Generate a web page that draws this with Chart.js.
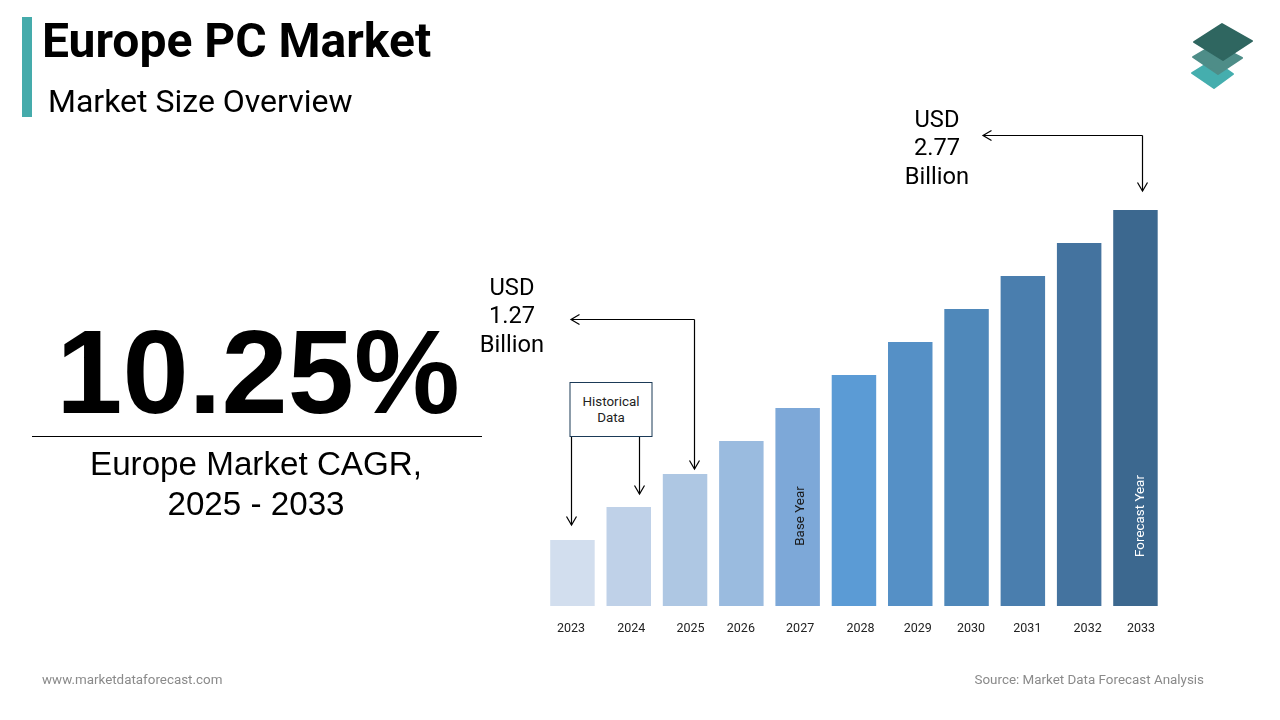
<!DOCTYPE html>
<html>
<head>
<meta charset="utf-8">
<title>Europe PC Market</title>
<script src="https://cdn.jsdelivr.net/npm/chart.js@4"></script>
<style>
  html, body { margin: 0; padding: 0; background: #fff; }
  body { width: 1280px; height: 720px; position: relative; overflow: hidden; font-family: Roboto, sans-serif; color: #000; }
  #barChart { position: absolute; left: 0; top: 0; }
  .t { position: absolute; white-space: nowrap; }
  .c { text-align: center; transform: translateX(-50%); }
  .rule { position: absolute; background: #000; }
</style>
</head>
<body>
<canvas id="barChart" width="1280" height="720"></canvas>

<div style="position:absolute;left:22px;top:17px;width:10px;height:100px;background:#45ABAB"></div>
<div class="t" style="left:42px;top:14px;font-size:48px;font-weight:700;line-height:54px">Europe PC Market</div>
<div class="t" style="left:48px;top:82px;font-size:32px;line-height:38px">Market Size Overview</div>

<div class="t c" style="left:258px;top:299px;font-family:'Liberation Sans',sans-serif;font-size:119px;font-weight:700;line-height:146px">10.25%</div>
<div class="rule" style="left:32px;top:436px;width:450px;height:1px"></div>
<div class="t c" style="left:256px;top:444px;font-family:'Liberation Sans',sans-serif;font-size:33.2px;line-height:40px">Europe Market CAGR,<br>2025 - 2033</div>

<div class="t c" style="left:512px;top:273px;font-size:23.7px;line-height:28.3px">USD<br>1.27<br>Billion</div>
<div class="t c" style="left:937px;top:105px;font-size:23.7px;line-height:28.3px">USD<br>2.77<br>Billion</div>

<div class="t c" style="left:611px;top:382px;width:83px;height:55px;box-sizing:border-box;border:1px solid #1B3A57;background:#fff;font-size:13.4px;line-height:16px;padding-top:11px;color:#222">Historical<br>Data</div>

<svg style="position:absolute;left:0;top:0" width="1280" height="720">
  <polygon points="1192,73 1213,60 1233,74 1214,88" fill="#45AEAE" stroke="#45AEAE" stroke-linejoin="round" stroke-width="2"/>
  <polygon points="1193,57 1215,44 1242,58 1218,74" fill="#4E8D88" stroke="#4E8D88" stroke-linejoin="round" stroke-width="2"/>
  <polygon points="1194,42 1222,24 1252,41 1223,60" fill="#2F6660" stroke="#2F6660" stroke-linejoin="round" stroke-width="2"/>
</svg>

<div class="t" style="left:42px;top:672px;font-size:13.4px;line-height:16px;color:#8A8A8A">www.marketdataforecast.com</div>
<div class="t" style="right:76px;top:672px;font-size:13.4px;line-height:16px;color:#8A8A8A">Source: Market Data Forecast Analysis</div>

<script>
var years = ["2023", "2024", "2025", "2026", "2027", "2028", "2029", "2030", "2031", "2032", "2033"];
var barHeights = [2, 3, 4, 5, 6, 7, 8, 9, 10, 11, 12];
var barColors = ["#D2DEEE", "#BFD1E8", "#AEC7E3", "#9ABBDF", "#7DA8D8", "#5B9BD5",
                 "#5590C6", "#4F88BA", "#4A7EAE", "#44739F", "#3C688F"];

// Year labels sit a little off-centre in the source
var yearShift = [-1.5, 2.5, 5.5, -0.5, 2.5, 6.5, 7.5, 4.5, 4.5, 8.5, 5.5];

function arrowHead(ctx, x, y, dir) {
  var s = 8.5;
  ctx.beginPath();
  if (dir === "down") {
    ctx.moveTo(x - 5, y - s);
    ctx.lineTo(x, y);
    ctx.lineTo(x + 5, y - s);
  } else {
    ctx.moveTo(x + s, y - 5);
    ctx.lineTo(x, y);
    ctx.lineTo(x + s, y + 5);
  }
  ctx.stroke();
}

var annotations = {
  id: "annotations",
  afterDraw: function (chart) {
    var ctx = chart.ctx;
    var xs = chart.scales.x;
    var ys = chart.scales.y;
    var baseY = ys.getPixelForValue(0);
    var i;

    ctx.save();

    // year labels
    ctx.font = "12.5px Roboto";
    ctx.fillStyle = "#222";
    ctx.textAlign = "center";
    ctx.textBaseline = "middle";
    for (i = 0; i < years.length; i++) {
      ctx.fillText(years[i], xs.getPixelForValue(i) + yearShift[i], baseY + 22.5);
    }

    // rotated labels inside the bars
    ctx.font = "13.4px Roboto";
    function rotated(text, idx, shift, color) {
      ctx.save();
      ctx.translate(xs.getPixelForValue(idx) + shift, baseY - 90);
      ctx.rotate(-Math.PI / 2);
      ctx.fillStyle = color;
      ctx.fillText(text, 0, 0);
      ctx.restore();
    }
    rotated("Base Year", 4, 3.5, "#1a1a1a");
    rotated("Forecast Year", 10, 5.5, "#ffffff");

    // arrows
    ctx.strokeStyle = "#000";
    ctx.lineWidth = 1.2;
    function line(x1, y1, x2, y2) {
      ctx.beginPath();
      ctx.moveTo(x1, y1);
      ctx.lineTo(x2, y2);
      ctx.stroke();
    }

    var tip2023 = ys.getPixelForValue(barHeights[0]) - 15;
    var tip2024 = ys.getPixelForValue(barHeights[1]) - 13;
    var tip2025 = ys.getPixelForValue(barHeights[2]) - 5;
    var tip2033 = ys.getPixelForValue(barHeights[10]) - 19;

    line(571.5, 436, 571.5, tip2023);
    arrowHead(ctx, 571.5, tip2023, "down");
    line(639.5, 436, 639.5, tip2024);
    arrowHead(ctx, 639.5, tip2024, "down");

    line(571, 319.5, 694.5, 319.5);
    arrowHead(ctx, 571, 319.5, "left");
    line(694.5, 319.5, 694.5, tip2025);
    arrowHead(ctx, 694.5, tip2025, "down");

    line(983, 135.5, 1142.5, 135.5);
    arrowHead(ctx, 983, 135.5, "left");
    line(1142.5, 135.5, 1142.5, tip2033);
    arrowHead(ctx, 1142.5, tip2033, "down");

    ctx.restore();
  }
};

new Chart(document.getElementById("barChart").getContext("2d"), {
  type: "bar",
  data: {
    labels: years,
    datasets: [{
      data: barHeights,
      backgroundColor: barColors,
      borderWidth: 0,
      barPercentage: 0.79,
      categoryPercentage: 1
    }]
  },
  options: {
    responsive: false,
    animation: false,
    layout: { padding: { left: 544.3, right: 116.4, top: 210, bottom: 114 } },
    plugins: { legend: { display: false }, tooltip: { enabled: false } },
    scales: {
      x: { display: false },
      y: { display: false, min: 0, max: 12 }
    }
  },
  plugins: [annotations]
});
</script>
</body>
</html>
